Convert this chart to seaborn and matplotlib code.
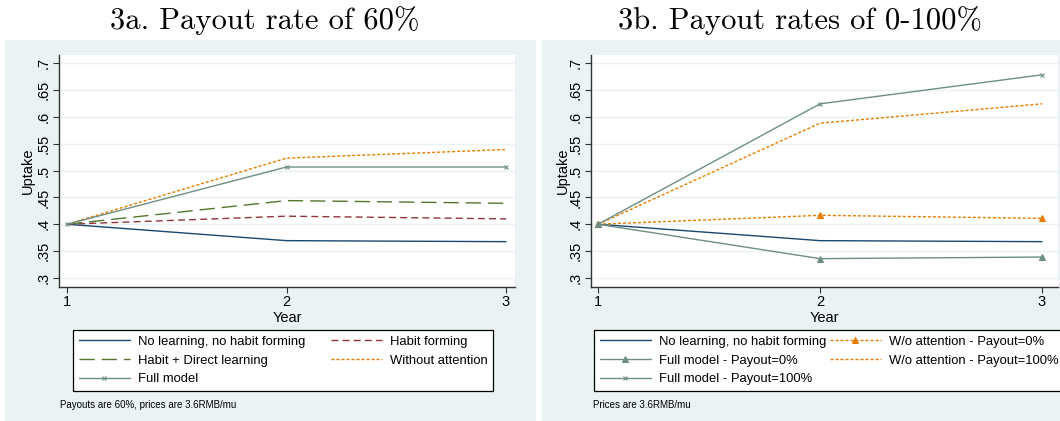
import matplotlib
matplotlib.use("Agg")
import matplotlib.pyplot as plt
import seaborn as sns
from matplotlib.patches import Rectangle

# ---- data -------------------------------------------------------------
years = [1, 2, 3]

# 3a: payout rate of 60%
no_learning = [0.400, 0.3695, 0.3676]
habit_forming = [0.400, 0.415, 0.410]
habit_direct = [0.400, 0.444, 0.439]
without_attention = [0.400, 0.523, 0.539]
full_model = [0.400, 0.5065, 0.5065]

# 3b: payout rates of 0-100%
full_pay0 = [0.400, 0.336, 0.339]
full_pay100 = [0.400, 0.624, 0.678]
woatt_pay0 = [0.400, 0.4166, 0.411]
woatt_pay100 = [0.400, 0.588, 0.624]

y_ticks = [0.3, 0.35, 0.4, 0.45, 0.5, 0.55, 0.6, 0.65, 0.7]
y_ticklabels = [".3", ".35", ".4", ".45", ".5", ".55", ".6", ".65", ".7"]
x_ticks = [1, 2, 3]
x_ticklabels = ["1", "2", "3"]

titles = ["3a. Payout rate of 60%", "3b. Payout rates of 0-100%"]
notes = ["Payouts are 60%, prices are 3.6RMB/mu", "Prices are 3.6RMB/mu"]

# ---- style ------------------------------------------------------------
sns.set_theme(style="white")
plt.rcParams["font.family"] = ["Liberation Sans", "DejaVu Sans"]
plt.rcParams["text.color"] = "black"
plt.rcParams["axes.labelcolor"] = "black"
plt.rcParams["xtick.color"] = "black"
plt.rcParams["ytick.color"] = "black"

BG = "#EAF2F3"
NAVY = "#1A476F"
MAROON = "#90353B"
GREEN = "#55752F"
ORANGE = "#E37E00"
TEAL = "#6E8E84"

W, H = 1060, 421
fig = plt.figure(figsize=(W / 100, H / 100), dpi=100)
fig.patch.set_facecolor("white")


def fx(px):
    return px / W


def fy(py):
    return 1 - py / H


# panel backgrounds
for x0, x1 in [(5, 536), (542, 1060)]:
    fig.patches.append(Rectangle((fx(x0), 0), fx(x1) - fx(x0), fy(40),
                                 transform=fig.transFigure, facecolor=BG,
                                 edgecolor="none", zorder=-5))


def make_axes(left, right, tick1, tick3, label_x):
    top, bottom = 55, 287
    ax = fig.add_axes([fx(left), fy(bottom), fx(right) - fx(left), (bottom - top) / H])
    ppu_x = (tick3 - tick1) / 2
    ax.set_xlim(1 - (tick1 - left) / ppu_x, 3 + (right - tick3) / ppu_x)
    ppu_y = 537.5
    ax.set_ylim(0.3 - 9 / ppu_y, 0.7 + 8 / ppu_y)
    ax.set_facecolor("white")
    for s in ["top", "right"]:
        ax.spines[s].set_visible(False)
    for s in ["left", "bottom"]:
        ax.spines[s].set_color("#333333")
        ax.spines[s].set_linewidth(1.0)
    ax.set_yticks(y_ticks)
    ax.set_yticklabels(y_ticklabels, rotation=90, va="center")
    ax.set_xticks(x_ticks)
    ax.set_xticklabels(x_ticklabels)
    ax.tick_params(axis="both", direction="out", length=4, width=0.8,
                   color="#333333", labelsize=10.5, pad=2, left=True, bottom=True)
    ax.grid(axis="y", color=BG, linewidth=1.0)
    ax.set_axisbelow(True)
    ax.set_xlabel("Year", fontsize=10.5, labelpad=1)
    ax.set_ylabel("Uptake", fontsize=10.5)
    ax.yaxis.set_label_coords((label_x - left) / (right - left), 0.5)
    ax.yaxis.label.set_va("center")
    return ax


def series(ax, vals, color, label, ls="-", marker=None, ms=4):
    sns.lineplot(x=years, y=vals, ax=ax, color=color, linewidth=1.0,
                 linestyle=ls, marker=marker, markersize=ms,
                 markeredgecolor=color, markerfacecolor=color,
                 markeredgewidth=0.8, label=label)


DASH = (0, (5, 3))
LONGDASH = (0, (11, 5))
SHORTDASH = (0, (2.2, 1.4))

# ---- panel 3a -----------------------------------------------------------
ax1 = make_axes(59, 515, 67, 506, 28)
series(ax1, no_learning, NAVY, "No learning, no habit forming")
series(ax1, habit_forming, MAROON, "Habit forming", ls=DASH)
series(ax1, habit_direct, GREEN, "Habit + Direct learning", ls=LONGDASH)
series(ax1, without_attention, ORANGE, "Without attention", ls=SHORTDASH)
series(ax1, full_model, TEAL, "Full model", marker="x", ms=3.5)

# ---- panel 3b -----------------------------------------------------------
ax2 = make_axes(591, 1058, 598, 1042, 563)
series(ax2, no_learning, NAVY, "No learning, no habit forming")
series(ax2, woatt_pay0, ORANGE, "W/o attention - Payout=0%", ls=SHORTDASH, marker="^", ms=5)
series(ax2, full_pay0, TEAL, "Full model - Payout=0%", marker="^", ms=5)
series(ax2, woatt_pay100, ORANGE, "W/o attention - Payout=100%", ls=SHORTDASH)
series(ax2, full_pay100, TEAL, "Full model - Payout=100%", marker="x", ms=3.5)


def build_legend(ax, order, left_px, colspacing):
    handles, labels = ax.get_legend_handles_labels()
    ax.get_legend().remove()
    lookup = dict(zip(labels, handles))
    leg = fig.legend([lookup[k] for k in order], order, ncol=2,
                     loc="upper left", bbox_to_anchor=(fx(left_px), fy(330)),
                     bbox_transform=fig.transFigure, fontsize=9.4,
                     frameon=True, fancybox=False, handlelength=3.9,
                     handletextpad=0.6, columnspacing=colspacing,
                     labelspacing=0.5, borderpad=0.45, borderaxespad=0)
    fr = leg.get_frame()
    fr.set_edgecolor("black")
    fr.set_linewidth(0.9)
    fr.set_facecolor("white")
    fr.set_alpha(1)
    return leg


build_legend(ax1, ["No learning, no habit forming", "Habit + Direct learning", "Full model",
                   "Habit forming", "Without attention"], 73, 2.0)
build_legend(ax2, ["No learning, no habit forming", "Full model - Payout=0%",
                   "Full model - Payout=100%", "W/o attention - Payout=0%",
                   "W/o attention - Payout=100%"], 594, 0.3)

# notes and titles
fig.text(fx(60), fy(405), notes[0], fontsize=7, va="center", ha="left")
fig.text(fx(593), fy(405), notes[1], fontsize=7, va="center", ha="left")
fig.text(fx(265), fy(21), titles[0], fontsize=22, family=["cmr10", "DejaVu Serif"],
         ha="center", va="center")
fig.text(fx(800), fy(21), titles[1], fontsize=22, family=["cmr10", "DejaVu Serif"],
         ha="center", va="center")

fig.savefig("out.png", dpi=100, facecolor="white")
